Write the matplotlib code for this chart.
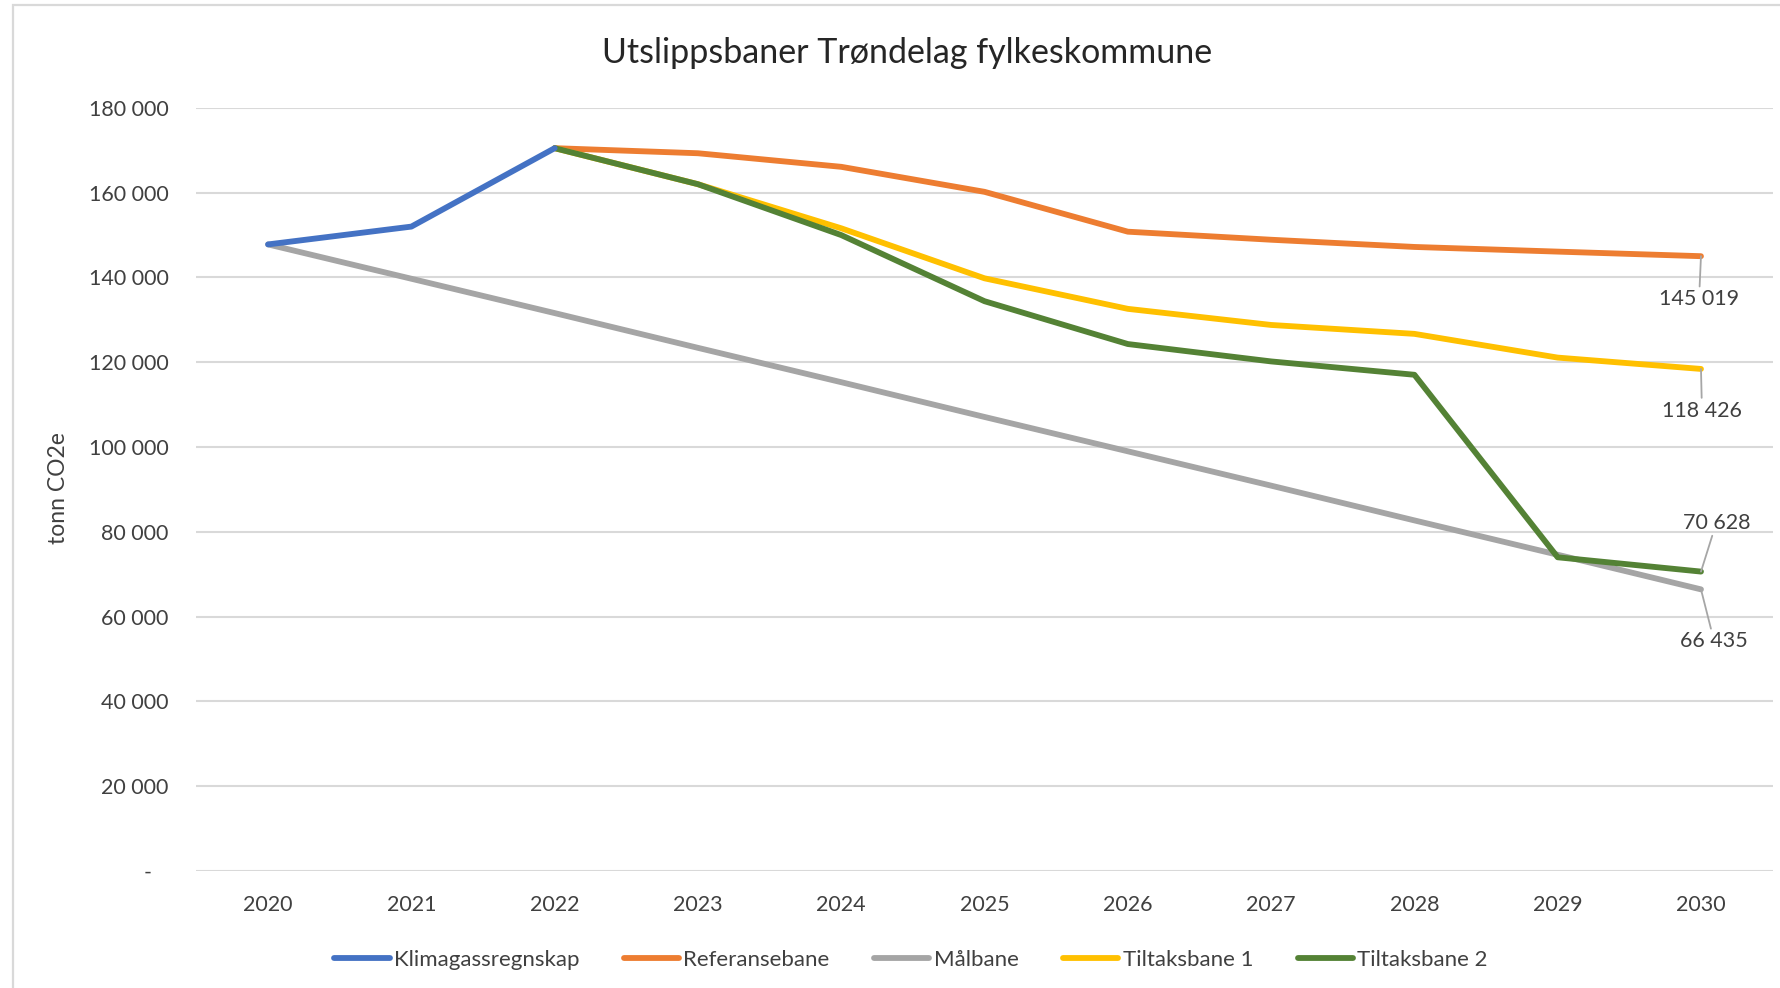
import matplotlib.pyplot as plt
from matplotlib.patches import Rectangle
from matplotlib.ticker import FuncFormatter

# ==========================================
# 1. Data
# ==========================================
years = [2020, 2021, 2022, 2023, 2024, 2025, 2026, 2027, 2028, 2029, 2030]

klimagass_years = [2020, 2021, 2022]
klimagass = [147800, 152000, 170500]

bane_years = [2022, 2023, 2024, 2025, 2026, 2027, 2028, 2029, 2030]
referansebane = [170500, 169300, 166100, 160200, 150800, 148900, 147200, 146100, 145019]
tiltaksbane1 = [170500, 162000, 151600, 139800, 132600, 128800, 126700, 121100, 118426]
tiltaksbane2 = [170500, 162000, 150000, 134400, 124300, 120200, 117050, 74000, 70628]

malbane = [147800, 139700, 131600, 123400, 115300, 107100, 99000, 90900, 82700, 74600, 66435]

y_ticks = [0, 20000, 40000, 60000, 80000, 100000, 120000, 140000, 160000, 180000]

# ==========================================
# 2. Style
# ==========================================
plt.rcParams['font.family'] = ['Lato', 'DejaVu Sans']
text_color = '#404040'
grid_color = '#d9d9d9'
fs = 15.5
lw = 4.2

fig = plt.figure(figsize=(17.81, 9.88), dpi=100)
ax = fig.add_axes([0.1103, 0.1184, 0.885, 0.7724])

# chart frame (light grey border)
fig.patches.append(Rectangle((0.0073, -0.05), 1.1, 1.0449, transform=fig.transFigure,
                             fill=False, edgecolor=grid_color, lw=1.6))

line_kw = dict(lw=lw, solid_joinstyle='round', solid_capstyle='round')
ax.plot(klimagass_years, klimagass, color='#4472C4', label='Klimagassregnskap', zorder=5, **line_kw)
ax.plot(bane_years, referansebane, color='#ED7D31', label='Referansebane', zorder=3, **line_kw)
ax.plot(years, malbane, color='#A5A5A5', label='Målbane', zorder=2, **line_kw)
ax.plot(bane_years, tiltaksbane1, color='#FFC000', label='Tiltaksbane 1', zorder=3, **line_kw)
ax.plot(bane_years, tiltaksbane2, color='#548235', label='Tiltaksbane 2', zorder=4, **line_kw)

# ==========================================
# 3. Axes
# ==========================================
ax.set_xlim(years[0] - 0.5, years[-1] + 0.5)
ax.set_ylim(0, 180000)
ax.set_xticks(years)
ax.set_yticks(y_ticks)


def fmt(v, pos):
    if v == 0:
        return '-   '
    return f'{v:,.0f}'.replace(',', ' ')


ax.yaxis.set_major_formatter(FuncFormatter(fmt))
ax.tick_params(axis='both', length=0, labelsize=fs, labelcolor=text_color)
ax.tick_params(axis='y', pad=20)
ax.tick_params(axis='x', pad=17)
ax.grid(axis='y', color=grid_color, lw=1.5)
ax.set_axisbelow(True)
for s in ax.spines.values():
    s.set_visible(False)

fig.text(0.5095, 0.946, 'Utslippsbaner Trøndelag fylkeskommune', ha='center', va='center',
         fontsize=24.5, color='#262626')
fig.text(0.0331, 0.506, 'tonn CO2e', rotation=90, ha='center', va='center',
         fontsize=16.5, color=text_color)

# ==========================================
# 4. Data labels on 2030 values
# ==========================================
end_labels = [
    (referansebane[-1], (-1.4, -31)),
    (tiltaksbane1[-1], (0.7, -30)),
    (tiltaksbane2[-1], (11, 35)),
    (malbane[-1], (9.5, -37.5)),
]
for val, off in end_labels:
    ax.annotate(f'{val:,.0f}'.replace(',', ' '), xy=(years[-1], val), xytext=off,
                textcoords='offset points', ha='center', va='center', fontsize=fs,
                color=text_color, zorder=6,
                arrowprops=dict(arrowstyle='-', color='#a6a6a6', lw=1.3,
                                shrinkA=0, shrinkB=0))

# ==========================================
# 5. Legend
# ==========================================
fig.legend(loc='center', bbox_to_anchor=(0.5115, 0.0285), ncol=5, frameon=False,
           fontsize=16, handlelength=2.48, handletextpad=0.2, columnspacing=2.0,
           labelcolor=text_color)

fig.savefig('out.png', dpi=100)
